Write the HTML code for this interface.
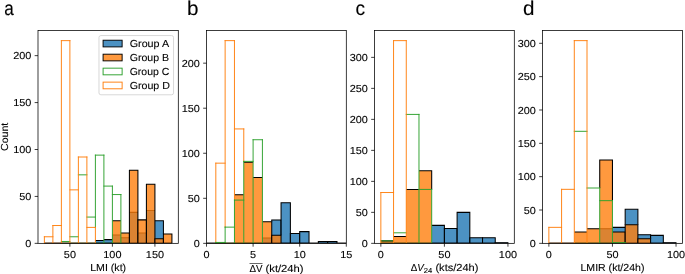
<!DOCTYPE html>
<html><head><meta charset="utf-8"><title>Histograms</title>
<style>html,body{margin:0;padding:0;background:#fff}svg{display:block;will-change:transform}text{font-family:"Liberation Sans",sans-serif;font-size:10.18px;fill:#000;stroke:#000;stroke-width:0.1px;text-rendering:geometricPrecision}</style>
</head><body>
<svg width="685" height="274" viewBox="0 0 685 274">
<defs><clipPath id="clipa"><rect x="38" y="30.5" width="140.3" height="212.85"/></clipPath>
<clipPath id="clipb"><rect x="206.5" y="30.5" width="139.8" height="212.85"/></clipPath>
<clipPath id="clipc"><rect x="374.5" y="30.5" width="139.8" height="212.85"/></clipPath>
<clipPath id="clipd"><rect x="542.5" y="30.5" width="139.9" height="212.85"/></clipPath></defs>
<rect width="685" height="274" fill="#fff"/>
<g clip-path="url(#clipa)">
<g stroke-width="1.05">
<path d="M44.38 243.35H52.88" fill="none" stroke="#000" stroke-opacity="1.0"/>
<path d="M52.88 243.35H61.38" fill="none" stroke="#000" stroke-opacity="1.0"/>
<path d="M61.38 243.35H69.89" fill="none" stroke="#000" stroke-opacity="1.0"/>
<path d="M69.89 243.35H78.39" fill="none" stroke="#000" stroke-opacity="1.0"/>
<path d="M78.39 243.35H86.89" fill="none" stroke="#000" stroke-opacity="1.0"/>
<path d="M86.89 243.35H95.4" fill="none" stroke="#000" stroke-opacity="1.0"/>
<rect x="95.4" y="240.53" width="8.5" height="2.82" fill="#1f77b4" fill-opacity="0.8"/>
<path d="M95.4 243.35H103.9M95.4 240.53H103.9" fill="none" stroke="#000" stroke-opacity="1.0"/>
<rect x="103.9" y="239.6" width="8.5" height="3.75" fill="#1f77b4" fill-opacity="0.8"/>
<path d="M103.9 243.35H112.4M103.9 239.6H112.4" fill="none" stroke="#000" stroke-opacity="1.0"/>
<rect x="112.4" y="234.9" width="8.5" height="8.45" fill="#1f77b4" fill-opacity="0.8"/>
<path d="M112.4 243.35H120.9M112.4 234.9H120.9" fill="none" stroke="#000" stroke-opacity="1.0"/>
<rect x="120.9" y="237.72" width="8.5" height="5.63" fill="#1f77b4" fill-opacity="0.8"/>
<path d="M120.9 243.35H129.41M120.9 237.72H129.41" fill="none" stroke="#000" stroke-opacity="1.0"/>
<rect x="129.41" y="212.38" width="8.5" height="30.97" fill="#1f77b4" fill-opacity="0.8"/>
<path d="M129.41 243.35H137.91M129.41 212.38H137.91" fill="none" stroke="#000" stroke-opacity="1.0"/>
<rect x="137.91" y="233.03" width="8.5" height="10.32" fill="#1f77b4" fill-opacity="0.8"/>
<path d="M137.91 243.35H146.41M137.91 233.03H146.41" fill="none" stroke="#000" stroke-opacity="1.0"/>
<rect x="146.41" y="210.5" width="8.5" height="32.85" fill="#1f77b4" fill-opacity="0.8"/>
<path d="M146.41 243.35H154.92M146.41 210.5H154.92" fill="none" stroke="#000" stroke-opacity="1.0"/>
<rect x="154.92" y="220.83" width="8.5" height="22.52" fill="#1f77b4" fill-opacity="0.8"/>
<path d="M154.92 243.35H163.42M154.92 220.83H163.42V233.97" fill="none" stroke="#000" stroke-opacity="1.0"/>
<path d="M163.42 243.35H171.92" fill="none" stroke="#000" stroke-opacity="1.0"/>
</g>
<g stroke-width="1.05">
<path d="M44.38 243.35H52.88" fill="none" stroke="#000" stroke-opacity="1.0"/>
<path d="M52.88 243.35H61.38" fill="none" stroke="#000" stroke-opacity="1.0"/>
<path d="M61.38 243.35H69.89" fill="none" stroke="#000" stroke-opacity="1.0"/>
<path d="M69.89 243.35H78.39" fill="none" stroke="#000" stroke-opacity="1.0"/>
<path d="M78.39 243.35H86.89" fill="none" stroke="#000" stroke-opacity="1.0"/>
<path d="M86.89 243.35H95.4" fill="none" stroke="#000" stroke-opacity="1.0"/>
<path d="M95.4 243.35H103.9" fill="none" stroke="#000" stroke-opacity="1.0"/>
<path d="M103.9 243.35H112.4" fill="none" stroke="#000" stroke-opacity="1.0"/>
<rect x="112.4" y="220.83" width="8.5" height="22.52" fill="#ff7f0e" fill-opacity="0.8"/>
<path d="M112.4 243.35H120.9M112.4 220.83H120.9" fill="none" stroke="#000" stroke-opacity="1.0"/>
<rect x="120.9" y="233.03" width="8.5" height="10.32" fill="#ff7f0e" fill-opacity="0.8"/>
<path d="M120.9 243.35H129.41M120.9 233.03H129.41V243.35" fill="none" stroke="#000" stroke-opacity="1.0"/>
<rect x="129.41" y="170.15" width="8.5" height="73.2" fill="#ff7f0e" fill-opacity="0.8"/>
<path d="M129.41 243.35H137.91M129.41 243.35V170.15H137.91V243.35" fill="none" stroke="#000" stroke-opacity="1.0"/>
<rect x="137.91" y="219.89" width="8.5" height="23.46" fill="#ff7f0e" fill-opacity="0.8"/>
<path d="M137.91 243.35H146.41M137.91 243.35V219.89H146.41V243.35" fill="none" stroke="#000" stroke-opacity="1.0"/>
<rect x="146.41" y="184.22" width="8.5" height="59.12" fill="#ff7f0e" fill-opacity="0.8"/>
<path d="M146.41 243.35H154.92M146.41 243.35V184.22H154.92V243.35" fill="none" stroke="#000" stroke-opacity="1.0"/>
<rect x="154.92" y="238.66" width="8.5" height="4.69" fill="#ff7f0e" fill-opacity="0.8"/>
<path d="M154.92 243.35H163.42M154.92 243.35V238.66H163.42V243.35" fill="none" stroke="#000" stroke-opacity="1.0"/>
<rect x="163.42" y="233.97" width="8.5" height="9.38" fill="#ff7f0e" fill-opacity="0.8"/>
<path d="M163.42 243.35H171.92M163.42 243.35V233.97H171.92V243.35" fill="none" stroke="#000" stroke-opacity="1.0"/>
</g>
<path d="M61.38 241.47H69.89M61.38 243.35H69.89M69.89 236.78H78.39M69.89 243.35H78.39M78.39 174.84H86.89M78.39 243.35H86.89M86.89 217.07H95.4M86.89 243.35H95.4M95.4 155.13H103.9M95.4 243.35H103.9M103.9 186.1H112.4M103.9 243.35H112.4M112.4 194.55H120.9M112.4 243.35H120.9M95.4 227.4V155.13M103.9 243.35V155.13M112.4 243.35V186.1M120.9 243.35V194.55" fill="none" stroke="#2ca02c" stroke-width="0.95" stroke-linecap="square"/>
<path d="M44.38 236.78H52.88M44.38 243.35H52.88M52.88 225.52H61.38M52.88 243.35H61.38M61.38 40.64H69.89M61.38 243.35H69.89M69.89 189.86H78.39M69.89 243.35H78.39M78.39 157.01H86.89M78.39 243.35H86.89M86.89 227.4H95.4M86.89 243.35H95.4M44.38 243.35V236.78M52.88 243.35V225.52M61.38 243.35V40.64M69.89 243.35V40.64M78.39 243.35V157.01M86.89 243.35V157.01M95.4 243.35V227.4" fill="none" stroke="#ff7f0e" stroke-width="0.95" stroke-linecap="square"/>
</g>
<rect x="38" y="30.5" width="140.3" height="212.85" fill="none" stroke="#000" stroke-width="0.76" stroke-linecap="square"/>
<path d="M69.89 243.35v3.33M112.4 243.35v3.33M154.92 243.35v3.33M38 243.35h-3.33M38 196.43h-3.33M38 149.5h-3.33M38 102.58h-3.33M38 55.65h-3.33" stroke="#000" stroke-width="0.76" fill="none"/>
<text x="69.89" y="258" text-anchor="middle" textLength="12.11" lengthAdjust="spacingAndGlyphs">50</text>
<text x="112.4" y="258" text-anchor="middle" textLength="18.16" lengthAdjust="spacingAndGlyphs">100</text>
<text x="154.92" y="258" text-anchor="middle" textLength="18.16" lengthAdjust="spacingAndGlyphs">150</text>
<text x="31.34" y="246.97" text-anchor="end" textLength="6.05" lengthAdjust="spacingAndGlyphs">0</text>
<text x="31.34" y="200.04" text-anchor="end" textLength="12.11" lengthAdjust="spacingAndGlyphs">50</text>
<text x="31.34" y="153.12" text-anchor="end" textLength="18.16" lengthAdjust="spacingAndGlyphs">100</text>
<text x="31.34" y="106.19" text-anchor="end" textLength="18.16" lengthAdjust="spacingAndGlyphs">150</text>
<text x="31.34" y="59.27" text-anchor="end" textLength="18.16" lengthAdjust="spacingAndGlyphs">200</text>
<g clip-path="url(#clipb)">
<g stroke-width="1.05">
<path d="M206.5 243.35H215.82" fill="none" stroke="#000" stroke-opacity="1.0"/>
<path d="M215.82 243.35H225.14" fill="none" stroke="#000" stroke-opacity="1.0"/>
<path d="M225.14 243.35H234.46" fill="none" stroke="#000" stroke-opacity="1.0"/>
<path d="M234.46 243.35H243.78" fill="none" stroke="#000" stroke-opacity="1.0"/>
<path d="M243.78 243.35H253.1" fill="none" stroke="#000" stroke-opacity="1.0"/>
<path d="M253.1 243.35H262.42" fill="none" stroke="#000" stroke-opacity="1.0"/>
<rect x="262.42" y="237.94" width="9.32" height="5.41" fill="#1f77b4" fill-opacity="0.8"/>
<path d="M262.42 243.35H271.74M262.42 237.94H271.74" fill="none" stroke="#000" stroke-opacity="1.0"/>
<rect x="271.74" y="219.93" width="9.32" height="23.42" fill="#1f77b4" fill-opacity="0.8"/>
<path d="M271.74 243.35H281.06M271.74 221.73V219.93H281.06V235.24" fill="none" stroke="#000" stroke-opacity="1.0"/>
<rect x="281.06" y="202.81" width="9.32" height="40.54" fill="#1f77b4" fill-opacity="0.8"/>
<path d="M281.06 243.35H290.38M281.06 235.24V202.81H290.38V243.35" fill="none" stroke="#000" stroke-opacity="1.0"/>
<rect x="290.38" y="233.44" width="9.32" height="9.91" fill="#1f77b4" fill-opacity="0.8"/>
<path d="M290.38 243.35H299.7M290.38 243.35V233.44H299.7V243.35" fill="none" stroke="#000" stroke-opacity="1.0"/>
<rect x="299.7" y="231.64" width="9.32" height="11.71" fill="#1f77b4" fill-opacity="0.8"/>
<path d="M299.7 243.35H309.02M299.7 243.35V231.64H309.02V243.35" fill="none" stroke="#000" stroke-opacity="1.0"/>
<path d="M309.02 243.35H318.34" fill="none" stroke="#000" stroke-opacity="1.0"/>
<rect x="318.34" y="241.55" width="9.32" height="1.8" fill="#1f77b4" fill-opacity="0.8"/>
<path d="M318.34 243.35H327.66M318.34 243.35V241.55H327.66V243.35" fill="none" stroke="#000" stroke-opacity="1.0"/>
<rect x="327.66" y="241.55" width="9.32" height="1.8" fill="#1f77b4" fill-opacity="0.8"/>
<path d="M327.66 243.35H336.98M327.66 243.35V241.55H336.98V243.35" fill="none" stroke="#000" stroke-opacity="1.0"/>
<path d="M336.98 243.35H346.3" fill="none" stroke="#000" stroke-opacity="1.0"/>
</g>
<g stroke-width="1.05">
<path d="M206.5 243.35H215.82" fill="none" stroke="#000" stroke-opacity="1.0"/>
<path d="M215.82 243.35H225.14" fill="none" stroke="#000" stroke-opacity="1.0"/>
<path d="M225.14 243.35H234.46" fill="none" stroke="#000" stroke-opacity="1.0"/>
<rect x="234.46" y="194.7" width="9.32" height="48.65" fill="#ff7f0e" fill-opacity="0.8"/>
<path d="M234.46 243.35H243.78M234.46 194.7H243.78" fill="none" stroke="#000" stroke-opacity="1.0"/>
<rect x="243.78" y="162.26" width="9.32" height="81.09" fill="#ff7f0e" fill-opacity="0.8"/>
<path d="M243.78 243.35H253.1M243.78 162.26H253.1" fill="none" stroke="#000" stroke-opacity="1.0"/>
<rect x="253.1" y="177.58" width="9.32" height="65.77" fill="#ff7f0e" fill-opacity="0.8"/>
<path d="M253.1 243.35H262.42M253.1 177.58H262.42" fill="none" stroke="#000" stroke-opacity="1.0"/>
<rect x="262.42" y="221.73" width="9.32" height="21.62" fill="#ff7f0e" fill-opacity="0.8"/>
<path d="M262.42 243.35H271.74M262.42 221.73H271.74V243.35" fill="none" stroke="#000" stroke-opacity="1.0"/>
<rect x="271.74" y="235.24" width="9.32" height="8.11" fill="#ff7f0e" fill-opacity="0.8"/>
<path d="M271.74 243.35H281.06M271.74 243.35V235.24H281.06V243.35" fill="none" stroke="#000" stroke-opacity="1.0"/>
<path d="M281.06 243.35H290.38" fill="none" stroke="#000" stroke-opacity="1.0"/>
<path d="M290.38 243.35H299.7" fill="none" stroke="#000" stroke-opacity="1.0"/>
<path d="M299.7 243.35H309.02" fill="none" stroke="#000" stroke-opacity="1.0"/>
<path d="M309.02 243.35H318.34" fill="none" stroke="#000" stroke-opacity="1.0"/>
<path d="M318.34 243.35H327.66" fill="none" stroke="#000" stroke-opacity="1.0"/>
<path d="M327.66 243.35H336.98" fill="none" stroke="#000" stroke-opacity="1.0"/>
<path d="M336.98 243.35H346.3" fill="none" stroke="#000" stroke-opacity="1.0"/>
</g>
<path d="M215.82 163.17H225.14M215.82 243.35H225.14M225.14 40.64H234.46M225.14 243.35H234.46M234.46 128.93H243.78M234.46 243.35H243.78M215.82 242.45V163.17M225.14 227.13V40.64M234.46 200.1V40.64M243.78 161.36V128.93" fill="none" stroke="#ff7f0e" stroke-width="0.95" stroke-linecap="square"/>
<path d="M215.82 242.45H225.14M215.82 243.35H225.14M225.14 227.13H234.46M225.14 243.35H234.46M234.46 200.1H243.78M234.46 243.35H243.78M243.78 161.36H253.1M243.78 243.35H253.1M253.1 139.74H262.42M253.1 243.35H262.42M215.82 243.35V242.45M225.14 243.35V227.13M234.46 243.35V200.1M243.78 243.35V161.36M253.1 243.35V139.74M262.42 243.35V139.74" fill="none" stroke="#2ca02c" stroke-width="0.95" stroke-linecap="square"/>
</g>
<rect x="206.5" y="30.5" width="139.8" height="212.85" fill="none" stroke="#000" stroke-width="0.76" stroke-linecap="square"/>
<path d="M206.5 243.35v3.33M253.1 243.35v3.33M299.7 243.35v3.33M346.3 243.35v3.33M206.5 243.35h-3.33M206.5 198.3h-3.33M206.5 153.25h-3.33M206.5 108.21h-3.33M206.5 63.16h-3.33" stroke="#000" stroke-width="0.76" fill="none"/>
<text x="206.5" y="258" text-anchor="middle" textLength="6.05" lengthAdjust="spacingAndGlyphs">0</text>
<text x="253.1" y="258" text-anchor="middle" textLength="6.05" lengthAdjust="spacingAndGlyphs">5</text>
<text x="299.7" y="258" text-anchor="middle" textLength="12.11" lengthAdjust="spacingAndGlyphs">10</text>
<text x="346.3" y="258" text-anchor="middle" textLength="12.11" lengthAdjust="spacingAndGlyphs">15</text>
<text x="199.84" y="246.97" text-anchor="end" textLength="6.05" lengthAdjust="spacingAndGlyphs">0</text>
<text x="199.84" y="201.92" text-anchor="end" textLength="12.11" lengthAdjust="spacingAndGlyphs">50</text>
<text x="199.84" y="156.87" text-anchor="end" textLength="18.16" lengthAdjust="spacingAndGlyphs">100</text>
<text x="199.84" y="111.82" text-anchor="end" textLength="18.16" lengthAdjust="spacingAndGlyphs">150</text>
<text x="199.84" y="66.77" text-anchor="end" textLength="18.16" lengthAdjust="spacingAndGlyphs">200</text>
<g clip-path="url(#clipc)">
<g stroke-width="1.05">
<path d="M380.85 243.35H393.56" fill="none" stroke="#000" stroke-opacity="1.0"/>
<path d="M393.56 243.35H406.27" fill="none" stroke="#000" stroke-opacity="1.0"/>
<path d="M406.27 243.35H418.98" fill="none" stroke="#000" stroke-opacity="1.0"/>
<path d="M418.98 243.35H431.69" fill="none" stroke="#000" stroke-opacity="1.0"/>
<rect x="431.69" y="225.37" width="12.71" height="17.98" fill="#1f77b4" fill-opacity="0.8"/>
<path d="M431.69 243.35H444.4M431.69 225.37H444.4V243.35" fill="none" stroke="#000" stroke-opacity="1.0"/>
<rect x="444.4" y="228.47" width="12.71" height="14.88" fill="#1f77b4" fill-opacity="0.8"/>
<path d="M444.4 243.35H457.11M444.4 243.35V228.47H457.11V243.35" fill="none" stroke="#000" stroke-opacity="1.0"/>
<rect x="457.11" y="212.35" width="12.71" height="31" fill="#1f77b4" fill-opacity="0.8"/>
<path d="M457.11 243.35H469.82M457.11 243.35V212.35H469.82V243.35" fill="none" stroke="#000" stroke-opacity="1.0"/>
<rect x="469.82" y="237.77" width="12.71" height="5.58" fill="#1f77b4" fill-opacity="0.8"/>
<path d="M469.82 243.35H482.53M469.82 243.35V237.77H482.53V243.35" fill="none" stroke="#000" stroke-opacity="1.0"/>
<rect x="482.53" y="237.77" width="12.71" height="5.58" fill="#1f77b4" fill-opacity="0.8"/>
<path d="M482.53 243.35H495.24M482.53 243.35V237.77H495.24V243.35" fill="none" stroke="#000" stroke-opacity="1.0"/>
<rect x="495.24" y="242.73" width="12.71" height="0.62" fill="#1f77b4" fill-opacity="0.8"/>
<path d="M495.24 243.35H507.95M495.24 243.35V242.73H507.95V243.35" fill="none" stroke="#000" stroke-opacity="1.0"/>
</g>
<g stroke-width="1.05">
<rect x="380.85" y="240.87" width="12.71" height="2.48" fill="#ff7f0e" fill-opacity="0.8"/>
<path d="M380.85 243.35H393.56M380.85 240.87H393.56" fill="none" stroke="#000" stroke-opacity="1.0"/>
<rect x="393.56" y="236.53" width="12.71" height="6.82" fill="#ff7f0e" fill-opacity="0.8"/>
<path d="M393.56 243.35H406.27M393.56 236.53H406.27" fill="none" stroke="#000" stroke-opacity="1.0"/>
<rect x="406.27" y="189.42" width="12.71" height="53.93" fill="#ff7f0e" fill-opacity="0.8"/>
<path d="M406.27 243.35H418.98M406.27 189.42H418.98" fill="none" stroke="#000" stroke-opacity="1.0"/>
<rect x="418.98" y="170.82" width="12.71" height="72.53" fill="#ff7f0e" fill-opacity="0.8"/>
<path d="M418.98 243.35H431.69M418.98 170.82H431.69V189.42" fill="none" stroke="#000" stroke-opacity="1.0"/>
<path d="M431.69 243.35H444.4" fill="none" stroke="#000" stroke-opacity="1.0"/>
<path d="M444.4 243.35H457.11" fill="none" stroke="#000" stroke-opacity="1.0"/>
<path d="M457.11 243.35H469.82" fill="none" stroke="#000" stroke-opacity="1.0"/>
<path d="M469.82 243.35H482.53" fill="none" stroke="#000" stroke-opacity="1.0"/>
<path d="M482.53 243.35H495.24" fill="none" stroke="#000" stroke-opacity="1.0"/>
<path d="M495.24 243.35H507.95" fill="none" stroke="#000" stroke-opacity="1.0"/>
</g>
<path d="M380.85 240.87H393.56M380.85 243.35H393.56M393.56 232.81H406.27M393.56 243.35H406.27M406.27 114.41H418.98M406.27 243.35H418.98M418.98 189.42H431.69M418.98 243.35H431.69M418.98 243.35V114.41M431.69 243.35V189.42" fill="none" stroke="#2ca02c" stroke-width="0.95" stroke-linecap="square"/>
<path d="M380.85 192.52H393.56M380.85 243.35H393.56M393.56 40.64H406.27M393.56 243.35H406.27M380.85 243.35V192.52M393.56 243.35V40.64M406.27 243.35V40.64" fill="none" stroke="#ff7f0e" stroke-width="0.95" stroke-linecap="square"/>
</g>
<rect x="374.5" y="30.5" width="139.8" height="212.85" fill="none" stroke="#000" stroke-width="0.76" stroke-linecap="square"/>
<path d="M380.85 243.35v3.33M444.4 243.35v3.33M507.95 243.35v3.33M374.5 243.35h-3.33M374.5 212.35h-3.33M374.5 181.36h-3.33M374.5 150.36h-3.33M374.5 119.37h-3.33M374.5 88.37h-3.33M374.5 57.37h-3.33" stroke="#000" stroke-width="0.76" fill="none"/>
<text x="380.85" y="258" text-anchor="middle" textLength="6.05" lengthAdjust="spacingAndGlyphs">0</text>
<text x="444.4" y="258" text-anchor="middle" textLength="12.11" lengthAdjust="spacingAndGlyphs">50</text>
<text x="507.95" y="258" text-anchor="middle" textLength="18.16" lengthAdjust="spacingAndGlyphs">100</text>
<text x="367.84" y="246.97" text-anchor="end" textLength="6.05" lengthAdjust="spacingAndGlyphs">0</text>
<text x="367.84" y="215.97" text-anchor="end" textLength="12.11" lengthAdjust="spacingAndGlyphs">50</text>
<text x="367.84" y="184.97" text-anchor="end" textLength="18.16" lengthAdjust="spacingAndGlyphs">100</text>
<text x="367.84" y="153.98" text-anchor="end" textLength="18.16" lengthAdjust="spacingAndGlyphs">150</text>
<text x="367.84" y="122.98" text-anchor="end" textLength="18.16" lengthAdjust="spacingAndGlyphs">200</text>
<text x="367.84" y="91.98" text-anchor="end" textLength="18.16" lengthAdjust="spacingAndGlyphs">250</text>
<text x="367.84" y="60.99" text-anchor="end" textLength="18.16" lengthAdjust="spacingAndGlyphs">300</text>
<g clip-path="url(#clipd)">
<g stroke-width="1.05">
<path d="M548.86 243.35H561.58" fill="none" stroke="#000" stroke-opacity="1.0"/>
<path d="M561.58 243.35H574.3" fill="none" stroke="#000" stroke-opacity="1.0"/>
<path d="M574.3 243.35H587.01" fill="none" stroke="#000" stroke-opacity="1.0"/>
<path d="M587.01 243.35H599.73" fill="none" stroke="#000" stroke-opacity="1.0"/>
<rect x="599.73" y="228.68" width="12.72" height="14.67" fill="#1f77b4" fill-opacity="0.8"/>
<path d="M599.73 243.35H612.45M599.73 228.68H612.45" fill="none" stroke="#000" stroke-opacity="1.0"/>
<rect x="612.45" y="227.35" width="12.72" height="16" fill="#1f77b4" fill-opacity="0.8"/>
<path d="M612.45 243.35H625.17M612.45 227.35H625.17" fill="none" stroke="#000" stroke-opacity="1.0"/>
<rect x="625.17" y="209.34" width="12.72" height="34.01" fill="#1f77b4" fill-opacity="0.8"/>
<path d="M625.17 243.35H637.89M625.17 224.68V209.34H637.89V224.68" fill="none" stroke="#000" stroke-opacity="1.0"/>
<rect x="637.89" y="234.68" width="12.72" height="8.67" fill="#1f77b4" fill-opacity="0.8"/>
<path d="M637.89 243.35H650.6M637.89 234.68H650.6V238.68" fill="none" stroke="#000" stroke-opacity="1.0"/>
<rect x="650.6" y="235.35" width="12.72" height="8" fill="#1f77b4" fill-opacity="0.8"/>
<path d="M650.6 243.35H663.32M650.6 238.68V235.35H663.32V243.35" fill="none" stroke="#000" stroke-opacity="1.0"/>
<rect x="663.32" y="242.68" width="12.72" height="0.67" fill="#1f77b4" fill-opacity="0.8"/>
<path d="M663.32 243.35H676.04M663.32 243.35V242.68H676.04V243.35" fill="none" stroke="#000" stroke-opacity="1.0"/>
</g>
<g stroke-width="1.05">
<path d="M548.86 243.35H561.58" fill="none" stroke="#000" stroke-opacity="1.0"/>
<path d="M561.58 243.35H574.3" fill="none" stroke="#000" stroke-opacity="1.0"/>
<rect x="574.3" y="232.01" width="12.72" height="11.34" fill="#ff7f0e" fill-opacity="0.8"/>
<path d="M574.3 243.35H587.01M574.3 232.01H587.01" fill="none" stroke="#000" stroke-opacity="1.0"/>
<rect x="587.01" y="228.68" width="12.72" height="14.67" fill="#ff7f0e" fill-opacity="0.8"/>
<path d="M587.01 243.35H599.73M587.01 228.68H599.73" fill="none" stroke="#000" stroke-opacity="1.0"/>
<rect x="599.73" y="160" width="12.72" height="83.35" fill="#ff7f0e" fill-opacity="0.8"/>
<path d="M599.73 243.35H612.45M599.73 188V160H612.45V200.67" fill="none" stroke="#000" stroke-opacity="1.0"/>
<rect x="612.45" y="232.01" width="12.72" height="11.34" fill="#ff7f0e" fill-opacity="0.8"/>
<path d="M612.45 243.35H625.17M612.45 232.01H625.17V242.68" fill="none" stroke="#000" stroke-opacity="1.0"/>
<rect x="625.17" y="224.68" width="12.72" height="18.67" fill="#ff7f0e" fill-opacity="0.8"/>
<path d="M625.17 243.35H637.89M625.17 242.68V224.68H637.89V243.35" fill="none" stroke="#000" stroke-opacity="1.0"/>
<rect x="637.89" y="238.68" width="12.72" height="4.67" fill="#ff7f0e" fill-opacity="0.8"/>
<path d="M637.89 243.35H650.6M637.89 243.35V238.68H650.6V243.35" fill="none" stroke="#000" stroke-opacity="1.0"/>
<path d="M650.6 243.35H663.32" fill="none" stroke="#000" stroke-opacity="1.0"/>
<path d="M663.32 243.35H676.04" fill="none" stroke="#000" stroke-opacity="1.0"/>
</g>
<path d="M574.3 131.32H587.01M574.3 243.35H587.01M587.01 188H599.73M587.01 243.35H599.73M599.73 200.67H612.45M599.73 243.35H612.45M612.45 242.68H625.17M612.45 243.35H625.17M599.73 243.35V188M612.45 243.35V200.67M625.17 243.35V242.68" fill="none" stroke="#2ca02c" stroke-width="0.95" stroke-linecap="square"/>
<path d="M548.86 227.35H561.58M548.86 243.35H561.58M561.58 189.34H574.3M561.58 243.35H574.3M574.3 40.64H587.01M574.3 243.35H587.01M548.86 243.35V227.35M561.58 243.35V189.34M574.3 243.35V40.64M587.01 243.35V40.64" fill="none" stroke="#ff7f0e" stroke-width="0.95" stroke-linecap="square"/>
</g>
<rect x="542.5" y="30.5" width="139.9" height="212.85" fill="none" stroke="#000" stroke-width="0.76" stroke-linecap="square"/>
<path d="M548.86 243.35v3.33M612.45 243.35v3.33M676.04 243.35v3.33M542.5 243.35h-3.33M542.5 210.01h-3.33M542.5 176.67h-3.33M542.5 143.33h-3.33M542.5 109.99h-3.33M542.5 76.64h-3.33M542.5 43.3h-3.33" stroke="#000" stroke-width="0.76" fill="none"/>
<text x="548.86" y="258" text-anchor="middle" textLength="6.05" lengthAdjust="spacingAndGlyphs">0</text>
<text x="612.45" y="258" text-anchor="middle" textLength="12.11" lengthAdjust="spacingAndGlyphs">50</text>
<text x="676.04" y="258" text-anchor="middle" textLength="18.16" lengthAdjust="spacingAndGlyphs">100</text>
<text x="535.84" y="246.97" text-anchor="end" textLength="6.05" lengthAdjust="spacingAndGlyphs">0</text>
<text x="535.84" y="213.62" text-anchor="end" textLength="12.11" lengthAdjust="spacingAndGlyphs">50</text>
<text x="535.84" y="180.28" text-anchor="end" textLength="18.16" lengthAdjust="spacingAndGlyphs">100</text>
<text x="535.84" y="146.94" text-anchor="end" textLength="18.16" lengthAdjust="spacingAndGlyphs">150</text>
<text x="535.84" y="113.6" text-anchor="end" textLength="18.16" lengthAdjust="spacingAndGlyphs">200</text>
<text x="535.84" y="80.26" text-anchor="end" textLength="18.16" lengthAdjust="spacingAndGlyphs">250</text>
<text x="535.84" y="46.92" text-anchor="end" textLength="18.16" lengthAdjust="spacingAndGlyphs">300</text>
<text x="108.15" y="271" text-anchor="middle" textLength="36" lengthAdjust="spacingAndGlyphs">LMI (kt)</text>
<text x="612.45" y="271" text-anchor="middle" textLength="63.95" lengthAdjust="spacingAndGlyphs">LMIR (kt/24h)</text>
<text x="7.9" y="136.85" text-anchor="middle" textLength="28.25" lengthAdjust="spacingAndGlyphs" transform="rotate(-90 7.9 136.85)">Count</text>
<text x="249.52" y="272" textLength="13.02" lengthAdjust="spacingAndGlyphs">ΔV</text>
<text x="265.56" y="272" textLength="38" lengthAdjust="spacingAndGlyphs">(kt/24h)</text>
<rect x="249.52" y="263.2" width="13.02" height="0.59" fill="#000"/>
<text x="410.67" y="271" textLength="6.51" lengthAdjust="spacingAndGlyphs">Δ</text>
<text x="417.18" y="271" textLength="6.51" lengthAdjust="spacingAndGlyphs" font-style="italic">V</text>
<text x="423.69" y="272.6" style="font-size:7.13px" textLength="8.47" lengthAdjust="spacingAndGlyphs">24</text>
<text x="435.45" y="271" textLength="42.96" lengthAdjust="spacingAndGlyphs">(kts/24h)</text>
<rect x="98.98" y="35.56" width="74.56" height="59.21" rx="1.9" fill="#fff" fill-opacity="0.8" stroke="#ccc" stroke-opacity="0.8" stroke-width="0.95"/>
<rect x="103.09" y="40.23" width="19.03" height="6.66" fill="#1f77b4" fill-opacity="0.8" stroke="#000" stroke-opacity="1.0" stroke-width="0.95"/>
<text x="129.73" y="47" textLength="39.39" lengthAdjust="spacingAndGlyphs">Group A</text>
<rect x="103.09" y="54.2" width="19.03" height="6.66" fill="#ff7f0e" fill-opacity="0.8" stroke="#000" stroke-opacity="1.0" stroke-width="0.95"/>
<text x="129.73" y="61" textLength="39.41" lengthAdjust="spacingAndGlyphs">Group B</text>
<rect x="103.09" y="68.16" width="19.03" height="6.66" fill="none" stroke="#2ca02c" stroke-width="0.95"/>
<text x="129.73" y="75" textLength="39.53" lengthAdjust="spacingAndGlyphs">Group C</text>
<rect x="103.09" y="82.13" width="19.03" height="6.66" fill="none" stroke="#ff7f0e" stroke-width="0.95"/>
<text x="129.73" y="89" textLength="40.21" lengthAdjust="spacingAndGlyphs">Group D</text>
<text x="4.32" y="15" style="font-size:19.88px" textLength="9.5" lengthAdjust="spacingAndGlyphs">a</text>
<text x="186.9" y="15" style="font-size:19.88px" textLength="11.5" lengthAdjust="spacingAndGlyphs">b</text>
<text x="355.55" y="15" style="font-size:19.88px" textLength="9.54" lengthAdjust="spacingAndGlyphs">c</text>
<text x="522.9" y="15" style="font-size:19.88px" textLength="11.48" lengthAdjust="spacingAndGlyphs">d</text>
</svg>
</body></html>
